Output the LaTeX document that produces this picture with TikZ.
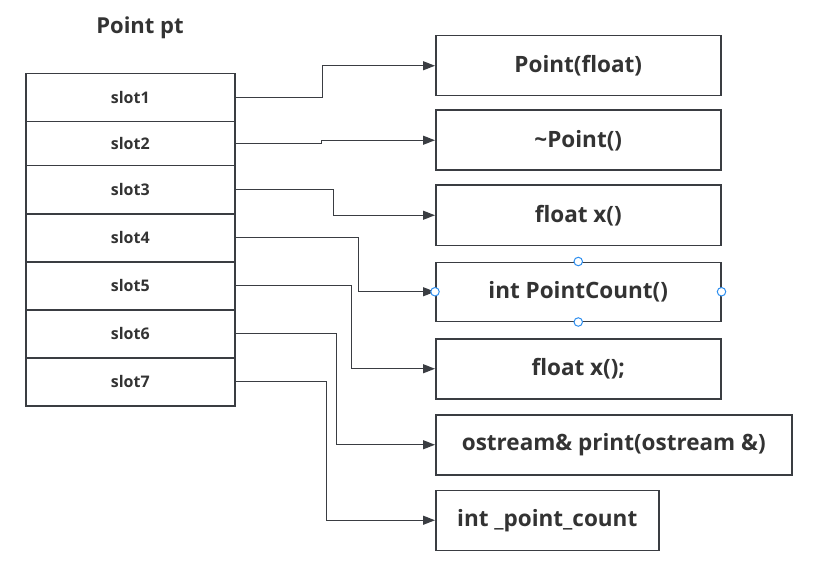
\documentclass[tikz,border=0pt]{standalone}
\usepackage{fontspec}
\setmainfont{Open Sans}
\usetikzlibrary{arrows.meta}
\definecolor{ln}{HTML}{3A3D42}
\definecolor{tx}{HTML}{333333}
\definecolor{hb}{HTML}{2F8FEF}
\begin{document}
\begin{tikzpicture}[x=1pt,y=-1pt,
 slotbox/.style={draw=ln,line width=1.5pt,rectangle,inner sep=0pt,minimum width=209pt,anchor=north west,font=\bfseries\fontsize{16}{18}\selectfont,text=tx},
 fnbox/.style={draw=ln,line width=1.5pt,rectangle,inner sep=0pt,minimum height=60pt,anchor=north west,font=\bfseries\fontsize{22.5}{26}\selectfont,text=tx},
 link/.style={draw=ln,line width=1.3pt,-{Triangle[length=12pt,width=9pt]}},
 handle/.style={circle,draw=hb,fill=white,line width=1pt,inner sep=0pt,minimum size=8.5pt}]
\useasboundingbox (0,0) rectangle (833,575);
\node[font=\bfseries\fontsize{22}{26}\selectfont,text=tx] (title) at (140,28) {Point pt};
\node[slotbox,minimum height=48pt] (s1) at (25,73) {slot1};
\node[slotbox,minimum height=44pt] (s2) at (25,121) {slot2};
\node[slotbox,minimum height=48pt] (s3) at (25,165) {slot3};
\node[slotbox,minimum height=48pt] (s4) at (25,213) {slot4};
\node[slotbox,minimum height=48pt] (s5) at (25,261) {slot5};
\node[slotbox,minimum height=48pt] (s6) at (25,309) {slot6};
\node[slotbox,minimum height=48pt] (s7) at (25,357) {slot7};
\node[fnbox,minimum width=285pt] (b1) at (435,35) {Point(float)};
\node[fnbox,minimum width=285pt] (b2) at (435,109.5) {\textasciitilde Point()};
\node[fnbox,minimum width=285pt] (b3) at (435,184.5) {float x()};
\node[fnbox,minimum width=285pt,minimum height=59pt] (b4) at (435,261.5) {int PointCount()};
\node[fnbox,minimum width=285pt] (b5) at (435,338) {float x();};
\node[fnbox,minimum width=356pt] (b6) at (435,414) {ostream\& print(ostream \&)};
\node[fnbox,minimum width=223pt] (b7) at (435,489.5) {int \_point\_count};
\draw[link] (s1.east) -- ++(87,0) |- (b1.west);
\draw[link] (s2.east) -- ++(86,0) |- (b2.west);
\draw[link] (s3.east) -- ++(98,0) |- (b3.west);
\draw[link] (s4.east) -- ++(123,0) |- (b4.west);
\draw[link] (s5.east) -- ++(116,0) |- (b5.west);
\draw[link] (s6.east) -- ++(100.7,0) |- (b6.west);
\draw[link] (s7.east) -- ++(91,0) |- (b7.west);
\node[handle] (h1) at (b4.west) {};
\node[handle] (h2) at (b4.east) {};
\node[handle] (h3) at (b4.north) {};
\node[handle] (h4) at (b4.south) {};
\end{tikzpicture}
\end{document}
